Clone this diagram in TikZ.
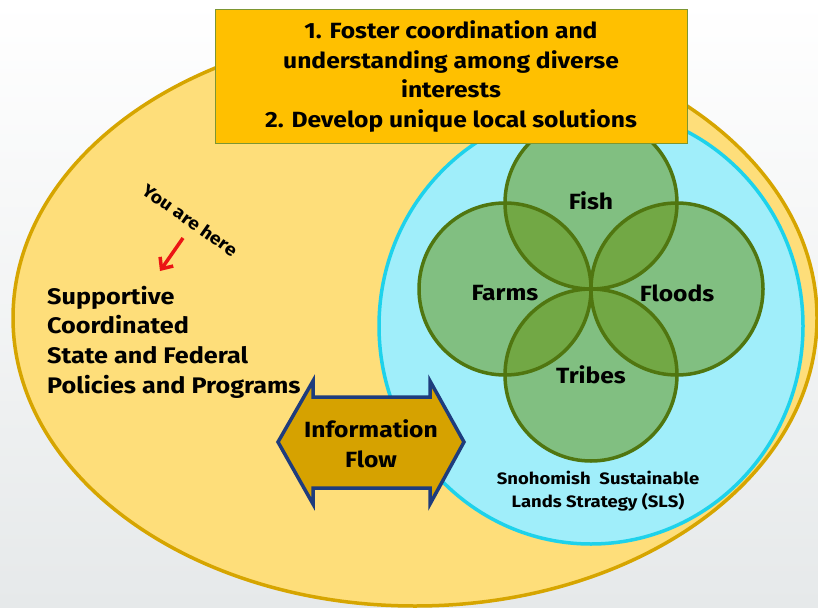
\documentclass[tikz,border=0pt]{standalone}
\usepackage{fontspec}
\setmainfont{Fira Sans}[FakeStretch=1.12]
\usetikzlibrary{arrows.meta}
\definecolor{bgbot}{RGB}{230,233,234}
\definecolor{yfill}{RGB}{254,222,122}
\definecolor{yline}{RGB}{214,165,0}
\definecolor{cfill}{RGB}{160,238,250}
\definecolor{cline}{RGB}{30,210,235}
\definecolor{gfill}{RGB}{100,146,10}
\definecolor{gline}{RGB}{80,118,16}
\definecolor{boxfill}{RGB}{255,192,0}
\definecolor{boxline}{RGB}{125,150,50}
\definecolor{afill}{RGB}{214,162,0}
\definecolor{aline}{RGB}{30,60,125}
\definecolor{redar}{RGB}{235,20,20}
\tikzset{
  lbl/.style={font=\bfseries\fontsize{22}{26}\selectfont, text=black, inner sep=0pt},
  gcircfill/.style={fill=gfill, fill opacity=0.5},
  gcircline/.style={draw=gline, line width=3.5pt},
  goalbox/.style={draw=boxline, line width=1pt, fill=boxfill, minimum width=472pt, minimum height=133pt, inner sep=0pt, align=center, font=\bfseries\fontsize{22}{29.5}\selectfont},
  redarrow/.style={draw=redar, line width=3.5pt, -{Straight Barb[length=9pt,width=16pt]}}
}
\begin{document}
\begin{tikzpicture}[x=1pt,y=-1pt]
\useasboundingbox (0,0) rectangle (818,607);
\fill[top color=white, bottom color=bgbot] (0,0) rectangle (818,607);
% big yellow ellipse
\draw[fill=yfill, draw=yline, line width=3.5pt] (415,318) ellipse [x radius=402, y radius=288];
% cyan ellipse
\draw[fill=cfill, draw=cline, line width=3.5pt] (591,326) ellipse [x radius=212, y radius=218];
% green circles
\foreach \p in {(591,203),(505,289),(677,289),(591,375)}
  \fill[gcircfill] \p circle [radius=86];
\foreach \p in {(591,203),(505,289),(677,289),(591,375)}
  \draw[gcircline] \p circle [radius=86];
\node[lbl] (fish) at (591,201) {Fish};
\node[lbl] (farms) at (505,293) {Farms};
\node[lbl] (floods) at (677,293) {Floods};
\node[lbl] (tribes) at (591,375) {Tribes};
% goal box
\node[goalbox] (goals) at (451,76.5) {1. Foster coordination and\\understanding among diverse\\interests\\2. Develop unique local solutions};
% SLS label
\node[font=\bfseries\fontsize{16.5}{23}\selectfont, align=center, inner sep=0pt] (sls) at (598,491) {Snohomish\ \ Sustainable\\Lands Strategy (SLS)};
% left text
\node[font=\bfseries\fontsize{22.5}{29.7}\selectfont, align=left, anchor=west, inner sep=0pt] (policies) at (47,342) {Supportive\\Coordinated\\State and Federal\\Policies and Programs};
% you are here
\node[font=\bfseries\fontsize{17.5}{19}\selectfont, rotate=-35, inner sep=0pt] (here) at (190,220) {You are here};
\coordinate (ya) at (183,238);
\coordinate (yb) at (160,271);
\draw[redarrow] (ya) -- (yb);
% information flow arrow
\draw[fill=afill, draw=aline, line width=3.5pt, line join=miter] (278,442) -- (313,381) -- (313,397) -- (430,397) -- (430,381) -- (464,442) -- (430,504) -- (430,488) -- (313,488) -- (313,504) -- cycle;
\node[lbl, align=center, font=\bfseries\fontsize{22}{30}\selectfont] (info) at (371,444) {Information\\Flow};
\end{tikzpicture}
\end{document}
